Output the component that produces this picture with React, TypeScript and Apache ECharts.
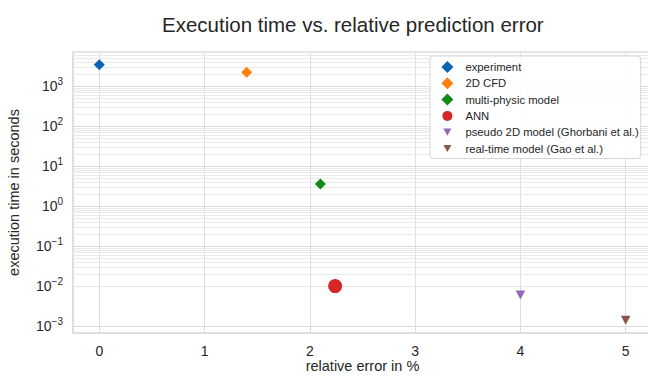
import React, { useEffect, useRef } from 'react';
import * as echarts from 'echarts';

// ---- data ----
const SERIES_NAMES = [
  'experiment',
  '2D CFD',
  'multi-physic model',
  'ANN',
  'pseudo 2D model (Ghorbani et al.)',
  'real-time model (Gao et al.)',
];
const REL_ERROR = [0, 1.4, 2.1, 2.24, 4.0, 5.0]; // %
const EXEC_TIME = [3470, 2240, 3.6, 0.01, 0.006, 0.0014]; // seconds

const COLORS = ['#0a64b4', '#ff7f0e', '#138a17', '#d62728', '#9467bd', '#8c564b'];

const X_TICKS = [0, 1, 2, 3, 4, 5];
const Y_DECADES = [-4, -3, -2, -1, 0, 1, 2, 3];
const MINOR_FACTORS = [2, 3, 4, 5, 6, 7, 8, 9];
const X_RANGE = [-0.25, 5.25];
const Y_EXP_RANGE = [-3.174, 3.86];

const TRI = 'path://M0,0L10,0L5,10Z';
const PLOT_SYMBOLS = ['diamond', 'diamond', 'diamond', 'circle', TRI, TRI];
const PLOT_SIZES = [[11, 11], [11, 11], [11, 11], [14, 14], [9.5, 9], [9.5, 9]];
const LEG_DIAMOND = 'path://M5,0L10,5L5,10L0,5Z';
const LEG_CIRCLE = 'path://M-1,-1M5,0A5,5,0,1,1,5,10A5,5,0,1,1,5,0ZM11,11';
const LEG_TRI = 'path://M-3,-3M0,0L10,0L5,9ZM13,12';
const LEGEND_ICONS = [LEG_DIAMOND, LEG_DIAMOND, LEG_DIAMOND, LEG_CIRCLE, LEG_TRI, LEG_TRI];

const TEXT = '#262626';
const FONT = '"Liberation Sans", Arial, sans-serif';

export default function App() {
  const ref = useRef<HTMLDivElement>(null);

  useEffect(() => {
    if (!ref.current) return;
    const chart = echarts.init(ref.current, undefined, { renderer: 'svg' });

    const yMin = Math.pow(10, Y_EXP_RANGE[0]);
    const yMax = Math.pow(10, Y_EXP_RANGE[1]);

    const minorValues: number[] = [];
    Y_DECADES.forEach((d) => {
      MINOR_FACTORS.forEach((f) => {
        const v = f * Math.pow(10, d);
        if (v > yMin && v < yMax) minorValues.push(v);
      });
    });

    const scatterSeries = SERIES_NAMES.map((name, i) => ({
      name,
      type: 'scatter',
      z: 3,
      data: [[REL_ERROR[i], EXEC_TIME[i]]],
      symbol: PLOT_SYMBOLS[i],
      symbolSize: PLOT_SIZES[i],
      itemStyle: { color: COLORS[i], opacity: 1 },
    }));

    const option: any = {
      animation: false,
      backgroundColor: '#ffffff',
      textStyle: { fontFamily: FONT },
      title: {
        text: 'Execution time vs. relative prediction error',
        left: 157,
        top: 9,
        textStyle: { fontFamily: FONT, fontSize: 20.5, fontWeight: 'normal', color: TEXT },
      },
      grid: {
        left: 73,
        top: 52,
        width: 579,
        height: 281,
        show: true,
        borderColor: '#cccccc',
        borderWidth: 1.2,
        backgroundColor: '#ffffff',
        containLabel: false,
        outerBoundsMode: 'none',
      },
      legend: {
        z: 10,
        orient: 'vertical',
        left: 430,
        top: 56,
        padding: [5, 2, 4, 11],
        itemGap: 4.3,
        itemWidth: 26,
        itemHeight: 12,
        backgroundColor: 'rgba(255,255,255,0.9)',
        borderColor: '#d6d6d6',
        borderWidth: 1,
        borderRadius: 3,
        textStyle: { fontFamily: FONT, fontSize: 11.3, color: TEXT, lineHeight: 12 },
        data: SERIES_NAMES.map((name, i) => ({ name, icon: LEGEND_ICONS[i] })),
      },
      xAxis: {
        type: 'value',
        min: X_RANGE[0],
        max: X_RANGE[1],
        splitNumber: 5,
        name: 'relative error in %',
        nameLocation: 'middle',
        nameGap: 25,
        nameMoveOverlap: false,
        nameTextStyle: { fontFamily: FONT, fontSize: 14.5, color: TEXT, lineHeight: 16 },
        axisLine: { show: false },
        axisTick: { show: false },
        axisLabel: {
          fontFamily: FONT,
          fontSize: 14,
          color: TEXT,
          margin: 11,
          formatter: (v: number) => (X_TICKS.includes(v) ? String(v) : ''),
        },
        splitLine: { show: true, lineStyle: { color: '#dddddd', width: 1 } },
      },
      yAxis: {
        type: 'log',
        logBase: 10,
        min: yMin,
        max: yMax,
        splitNumber: 5,
        name: 'execution time in seconds',
        nameLocation: 'middle',
        nameGap: 52,
        nameMoveOverlap: false,
        nameTextStyle: { fontFamily: FONT, fontSize: 14.5, color: TEXT },
        axisLine: { show: false },
        axisTick: { show: false },
        axisLabel: {
          fontFamily: FONT,
          color: TEXT,
          margin: 10,
          formatter: (v: number) => {
            const e = Math.log10(v);
            const r = Math.round(e);
            if (Math.abs(e - r) > 1e-3) return '';
            return '{b|10}{s|' + (r < 0 ? '\u2212' : '') + Math.abs(r) + '}';
          },
          rich: {
            b: { fontFamily: FONT, fontSize: 14, color: TEXT },
            s: { fontFamily: FONT, fontSize: 10, color: TEXT, padding: [0, 0, 9, 0] },
          },
        },
        splitLine: { show: true, lineStyle: { color: '#dddddd', width: 1 } },
      },
      series: [
        {
          name: '__minor_grid',
          type: 'line',
          z: 1,
          data: [],
          silent: true,
          markLine: {
            z: 1,
            silent: true,
            symbol: ['none', 'none'],
            label: { show: false },
            lineStyle: { color: '#e6e6e6', width: 0.9, type: 'solid' },
            data: minorValues.map((v) => ({ yAxis: v })),
          },
        },
        ...scatterSeries,
      ],
    };

    chart.setOption(option);
    return () => chart.dispose();
  }, []);

  return (
    <div
      ref={ref}
      style={{ position: 'fixed', left: 0, top: 0, width: 648, height: 376, background: '#fff' }}
    />
  );
}
